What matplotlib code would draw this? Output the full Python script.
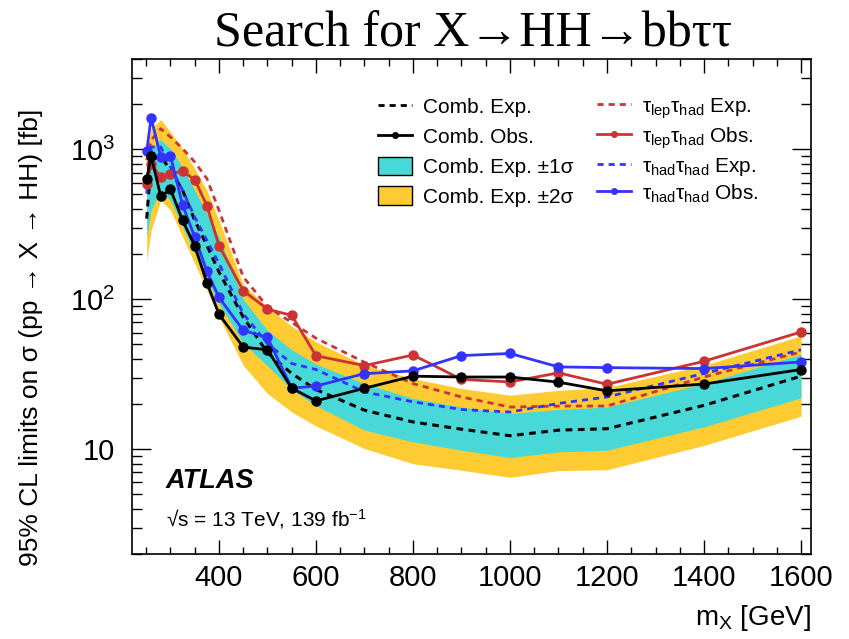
import numpy as np
import matplotlib
matplotlib.use("Agg")
import matplotlib.pyplot as plt
import matplotlib.ticker as mtick
from matplotlib.lines import Line2D
from matplotlib.patches import Patch

plt.rcParams['font.family'] = ['Liberation Sans', 'DejaVu Sans']
plt.rcParams['mathtext.fontset'] = 'custom'
plt.rcParams['mathtext.rm'] = 'Liberation Sans'
plt.rcParams['mathtext.it'] = 'Liberation Sans:italic'

# resonance masses [GeV]
masses = [251, 260, 280, 300, 325, 350, 375, 400, 450, 500, 550, 600,
          700, 800, 900, 1000, 1100, 1200, 1400, 1600]

# combined expected limit and bands [fb]
comb_exp = [345, 850, 900, 724, 533, 336, 229, 152, 76, 44, 32, 25,
            18.2, 15.2, 13.6, 12.3, 13.4, 13.7, 19.6, 30.7]
comb_1s_lo = [260, 392, 533, 457, 303, 202, 134, 93.6, 51, 36, 25, 19.5,
              13.4, 11.2, 9.85, 8.8, 9.6, 9.85, 14.1, 22]
comb_1s_hi = [689, 1010, 1160, 1010, 762, 533, 373, 260, 100, 62, 46, 37,
              27.4, 21.8, 19.1, 17.3, 18.4, 19.1, 27.4, 43]
comb_2s_lo = [182, 288, 457, 392, 260, 173, 115, 76, 36.3, 23.5, 17.7, 14.3,
              10.1, 8.0, 7.24, 6.5, 7.2, 7.3, 10.6, 16.6]
comb_2s_hi = [985, 1374, 1578, 1304, 1010, 743, 533, 336, 125, 89, 66, 52,
              36.3, 29.6, 25.4, 22.9, 24.7, 25.8, 36.3, 57]

# combined observed
comb_obs = [638, 902, 486, 541, 336, 227, 129, 79.4, 48, 46, 25.5, 21,
            25.5, 30.7, 30.3, 30.3, 28, 24.5, 27.2, 34]

# lep-had channel
lh_exp = [845, 1148, 1374, 1208, 1010, 823, 638, 392, 141, 89, 70, 55,
          38, 27.4, 22.3, 19.1, 19.4, 19.4, 30.3, 44.5]
lh_obs = [584, 800, 654, 689, 713, 628, 421, 228, 114, 86, 78, 42,
          36.1, 42.5, 29.2, 28.1, 32.3, 27.1, 38.6, 60.5]

# had-had channel
hh_exp = [506, 1037, 1037, 762, 533, 354, 247, 173, 80, 50.6, 37.3, 34,
          24.1, 20.7, 18.4, 17.7, 20.2, 22.3, 32, 46]
hh_obs = [970, 1626, 889, 902, 424, 260, 154, 103, 62, 55.6, 25.5, 26.4,
          31.9, 33.3, 42.1, 43.5, 35.4, 35, 34.5, 38.2]

yellow = '#FECB32'
cyan = '#48D8D8'
red = '#CC3333'
blue = '#3333FF'

fig = plt.figure(figsize=(8.49, 6.39), dpi=100)
ax = fig.add_axes([0.1551, 0.1330, 0.7998, 0.7746])

ax.fill_between(masses, comb_2s_lo, comb_2s_hi, color=yellow, lw=0, zorder=1)
ax.fill_between(masses, comb_1s_lo, comb_1s_hi, color=cyan, lw=0, zorder=2)

dash = (0, (2.2, 1.8))
ax.plot(masses, comb_exp, color='black', ls=dash, lw=2.2, zorder=3)
ax.plot(masses, lh_exp, color=red, ls=dash, lw=2.0, zorder=3)
ax.plot(masses, hh_exp, color=blue, ls=dash, lw=2.0, zorder=3)
ax.plot(masses, lh_obs, color=red, lw=2.0, marker='o', ms=6.5, zorder=4)
ax.plot(masses, hh_obs, color=blue, lw=2.0, marker='o', ms=6.5, zorder=4)
ax.plot(masses, comb_obs, color='black', lw=2.0, marker='o', ms=6.5, zorder=5)

ax.set_xlim(220, 1620)
ax.set_yscale('log')
ax.set_ylim(2, 4000)
ax.xaxis.set_major_locator(mtick.MultipleLocator(200))
ax.xaxis.set_minor_locator(mtick.MultipleLocator(50))
ax.set_xticks([400, 600, 800, 1000, 1200, 1400, 1600])
ax.set_yticks([10, 100, 1000])
ax.set_yticklabels(['10', '10$^{2}$', '10$^{3}$'])
ax.yaxis.set_minor_locator(mtick.LogLocator(base=10, subs=np.arange(2, 10)))
ax.yaxis.set_minor_formatter(mtick.NullFormatter())

ax.tick_params(which='both', direction='in', top=True, right=True, width=1.0)
ax.tick_params(axis='x', which='major', length=10, labelsize=21, pad=7)
ax.tick_params(axis='x', which='minor', length=5)
ax.tick_params(axis='y', which='major', length=14, labelsize=21, pad=12)
ax.tick_params(axis='y', which='minor', length=7)
for s in ax.spines.values():
    s.set_linewidth(1.2)

fig.text(0.9549, 0.022, 'm$_{\\mathrm{X}}$ [GeV]', ha='right', va='baseline', fontsize=20)
fig.text(0.037, 1 - 337 / 639, '95% CL limits on σ (pp → X → HH) [fb]',
         rotation=90, ha='center', va='center', fontsize=19)
fig.text(0.557, 1 - 34 / 639, 'Search for X→HH→bbττ', ha='center', va='center',
         fontsize=36, family=['Liberation Serif', 'DejaVu Serif'])

ax.text(166 / 849, 1 - 481 / 639, 'ATLAS', transform=fig.transFigure,
        fontsize=19.5, fontweight='bold', fontstyle='italic', va='center')
ax.text(166 / 849, 1 - 519 / 639, '√s = 13 TeV, 139 fb$^{-1}$', transform=fig.transFigure,
        fontsize=15, va='center')

h_left = [Line2D([], [], color='black', ls=dash, lw=2),
          Line2D([], [], color='black', lw=2, marker='o', ms=4),
          Patch(facecolor=cyan, edgecolor='black', lw=1),
          Patch(facecolor=yellow, edgecolor='black', lw=1)]
l_left = ['Comb. Exp.', 'Comb. Obs.', 'Comb. Exp. ±1σ', 'Comb. Exp. ±2σ']
h_right = [Line2D([], [], color=red, ls=dash, lw=2),
           Line2D([], [], color=red, lw=2, marker='o', ms=4),
           Line2D([], [], color=blue, ls=dash, lw=2),
           Line2D([], [], color=blue, lw=2, marker='o', ms=4)]
l_right = ['τ$_{\\mathrm{lep}}$τ$_{\\mathrm{had}}$ Exp.', 'τ$_{\\mathrm{lep}}$τ$_{\\mathrm{had}}$ Obs.',
           'τ$_{\\mathrm{had}}$τ$_{\\mathrm{had}}$ Exp.', 'τ$_{\\mathrm{had}}$τ$_{\\mathrm{had}}$ Obs.']

leg_kw = dict(frameon=False, fontsize=15, handlelength=1.65, handleheight=1.0,
              handletextpad=0.5, borderpad=0, borderaxespad=0, loc='upper left')
leg1 = ax.legend(h_left, l_left, bbox_to_anchor=(378 / 849, 1 - 97 / 639),
                 bbox_transform=fig.transFigure, labelspacing=0.45, **leg_kw)
ax.add_artist(leg1)
ax.legend(h_right, l_right, bbox_to_anchor=(597 / 849, 1 - 96 / 639),
          bbox_transform=fig.transFigure, labelspacing=0.22, **leg_kw)

fig.savefig('out.png', dpi=100)
